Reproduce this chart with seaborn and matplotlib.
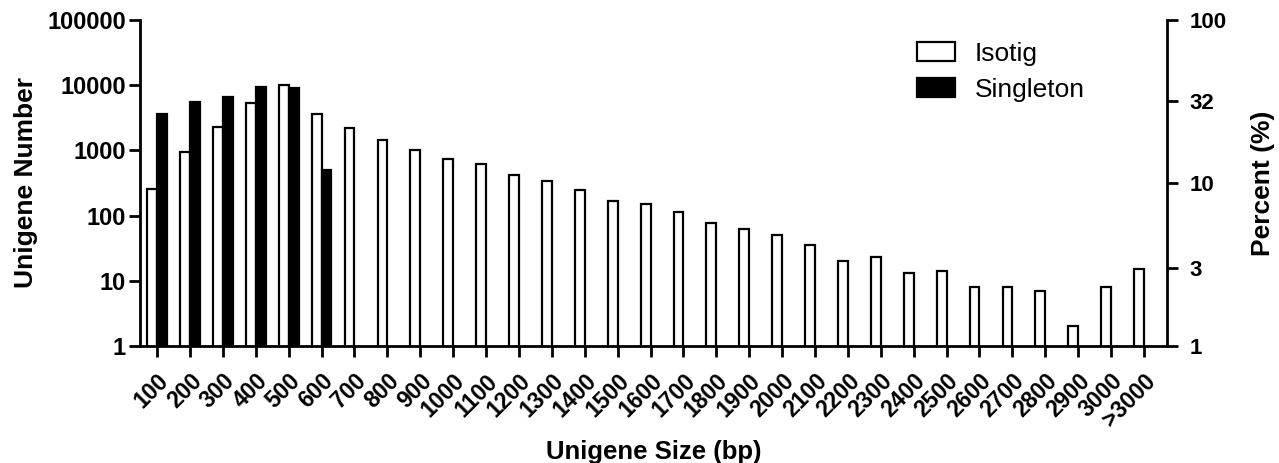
import pandas as pd
import numpy as np
import matplotlib
matplotlib.use('Agg')
import matplotlib.pyplot as plt
import seaborn as sns

# size bins (bp)
sizes = ['100', '200', '300', '400', '500', '600', '700', '800', '900', '1000',
         '1100', '1200', '1300', '1400', '1500', '1600', '1700', '1800', '1900', '2000',
         '2100', '2200', '2300', '2400', '2500', '2600', '2700', '2800', '2900', '3000',
         '>3000']

# counts
isotig = [260, 950, 2250, 5400, 10000, 3600, 2200, 1420, 1000, 740,
          610, 420, 345, 250, 165, 150, 112, 78, 63, 50,
          35, 20, 23, 13, 14, 8, 8, 7, 2, 8,
          15]
singleton = [3600, 5500, 6700, 9500, 8900, 500]

count_ticks = [1, 10, 100, 1000, 10000, 100000]
percent_ticks = [1, 3, 10, 32, 100]

sns.set_theme(style='white')
plt.rcParams['font.family'] = ['Liberation Sans', 'DejaVu Sans']
plt.rcParams['text.color'] = 'black'
plt.rcParams['axes.labelcolor'] = 'black'
plt.rcParams['xtick.color'] = 'black'
plt.rcParams['ytick.color'] = 'black'

rows = []
for s, v in zip(sizes, isotig):
    rows.append({'size': s, 'type': 'Isotig', 'count': v})
for s, v in zip(sizes, singleton):
    rows.append({'size': s, 'type': 'Singleton', 'count': v})
df = pd.DataFrame(rows)

W, H = 1279, 463
fig = plt.figure(figsize=(W / 100, H / 100), dpi=100)
ax = fig.add_axes([140 / W, 1 - 346 / H, (1167 - 140) / W, (346 - 20) / H])

sns.barplot(data=df, x='size', y='count', hue='type', order=sizes,
            hue_order=['Isotig', 'Singleton'],
            palette={'Isotig': 'white', 'Singleton': 'black'},
            edgecolor='black', linewidth=1.6, width=0.6, ax=ax)

ax.set_yscale('log')
ax.set_ylim(1, 100000)
ax.set_xlim(-0.52, 30.7)
ax.set_yticks(count_ticks)
ax.set_yticklabels([str(t) for t in count_ticks])
ax.minorticks_off()
ax.grid(False)

for side in ['left', 'bottom']:
    ax.spines[side].set_linewidth(2)
    ax.spines[side].set_color('black')
ax.spines['top'].set_visible(False)
ax.spines['right'].set_visible(False)

ax.tick_params(axis='both', direction='out', length=8, width=2,
               bottom=True, left=True)
ax.tick_params(axis='y', labelsize=17, pad=2)
ax.tick_params(axis='x', labelsize=16.5, pad=9)
for lab in ax.get_xticklabels():
    lab.set_rotation(45)
    lab.set_ha('right')
    lab.set_rotation_mode('anchor')
    lab.set_fontweight('bold')
for lab in ax.get_yticklabels():
    lab.set_fontweight('bold')

ax.set_xlabel('Unigene Size (bp)', fontsize=18.5, fontweight='bold', labelpad=6)
ax.set_ylabel('Unigene Number', fontsize=19, fontweight='bold', labelpad=7)

ax2 = ax.twinx()
ax2.set_yscale('log')
ax2.set_ylim(1, 100)
ax2.set_yticks(percent_ticks)
ax2.set_yticklabels([str(t) for t in percent_ticks])
ax2.minorticks_off()
ax2.grid(False)
for side in ['left', 'top', 'bottom']:
    ax2.spines[side].set_visible(False)
ax2.spines['right'].set_linewidth(2)
ax2.spines['right'].set_color('black')
ax2.tick_params(axis='y', direction='out', length=8, width=2,
                labelsize=16, pad=8, right=True)
for lab in ax2.get_yticklabels():
    lab.set_fontweight('bold')
ax2.set_ylabel('Percent (%)', fontsize=19, fontweight='bold', labelpad=18)

handles, labels = ax.get_legend_handles_labels()
ax.legend(handles, labels, frameon=False, loc='upper left',
          bbox_to_anchor=(917 / W, 1 - 42 / H), bbox_transform=fig.transFigure,
          prop={'size': 19}, handlelength=1.45, handleheight=0.72,
          labelspacing=0.45, handletextpad=0.75, borderpad=0, borderaxespad=0)

fig.savefig('out.png', dpi=100)
